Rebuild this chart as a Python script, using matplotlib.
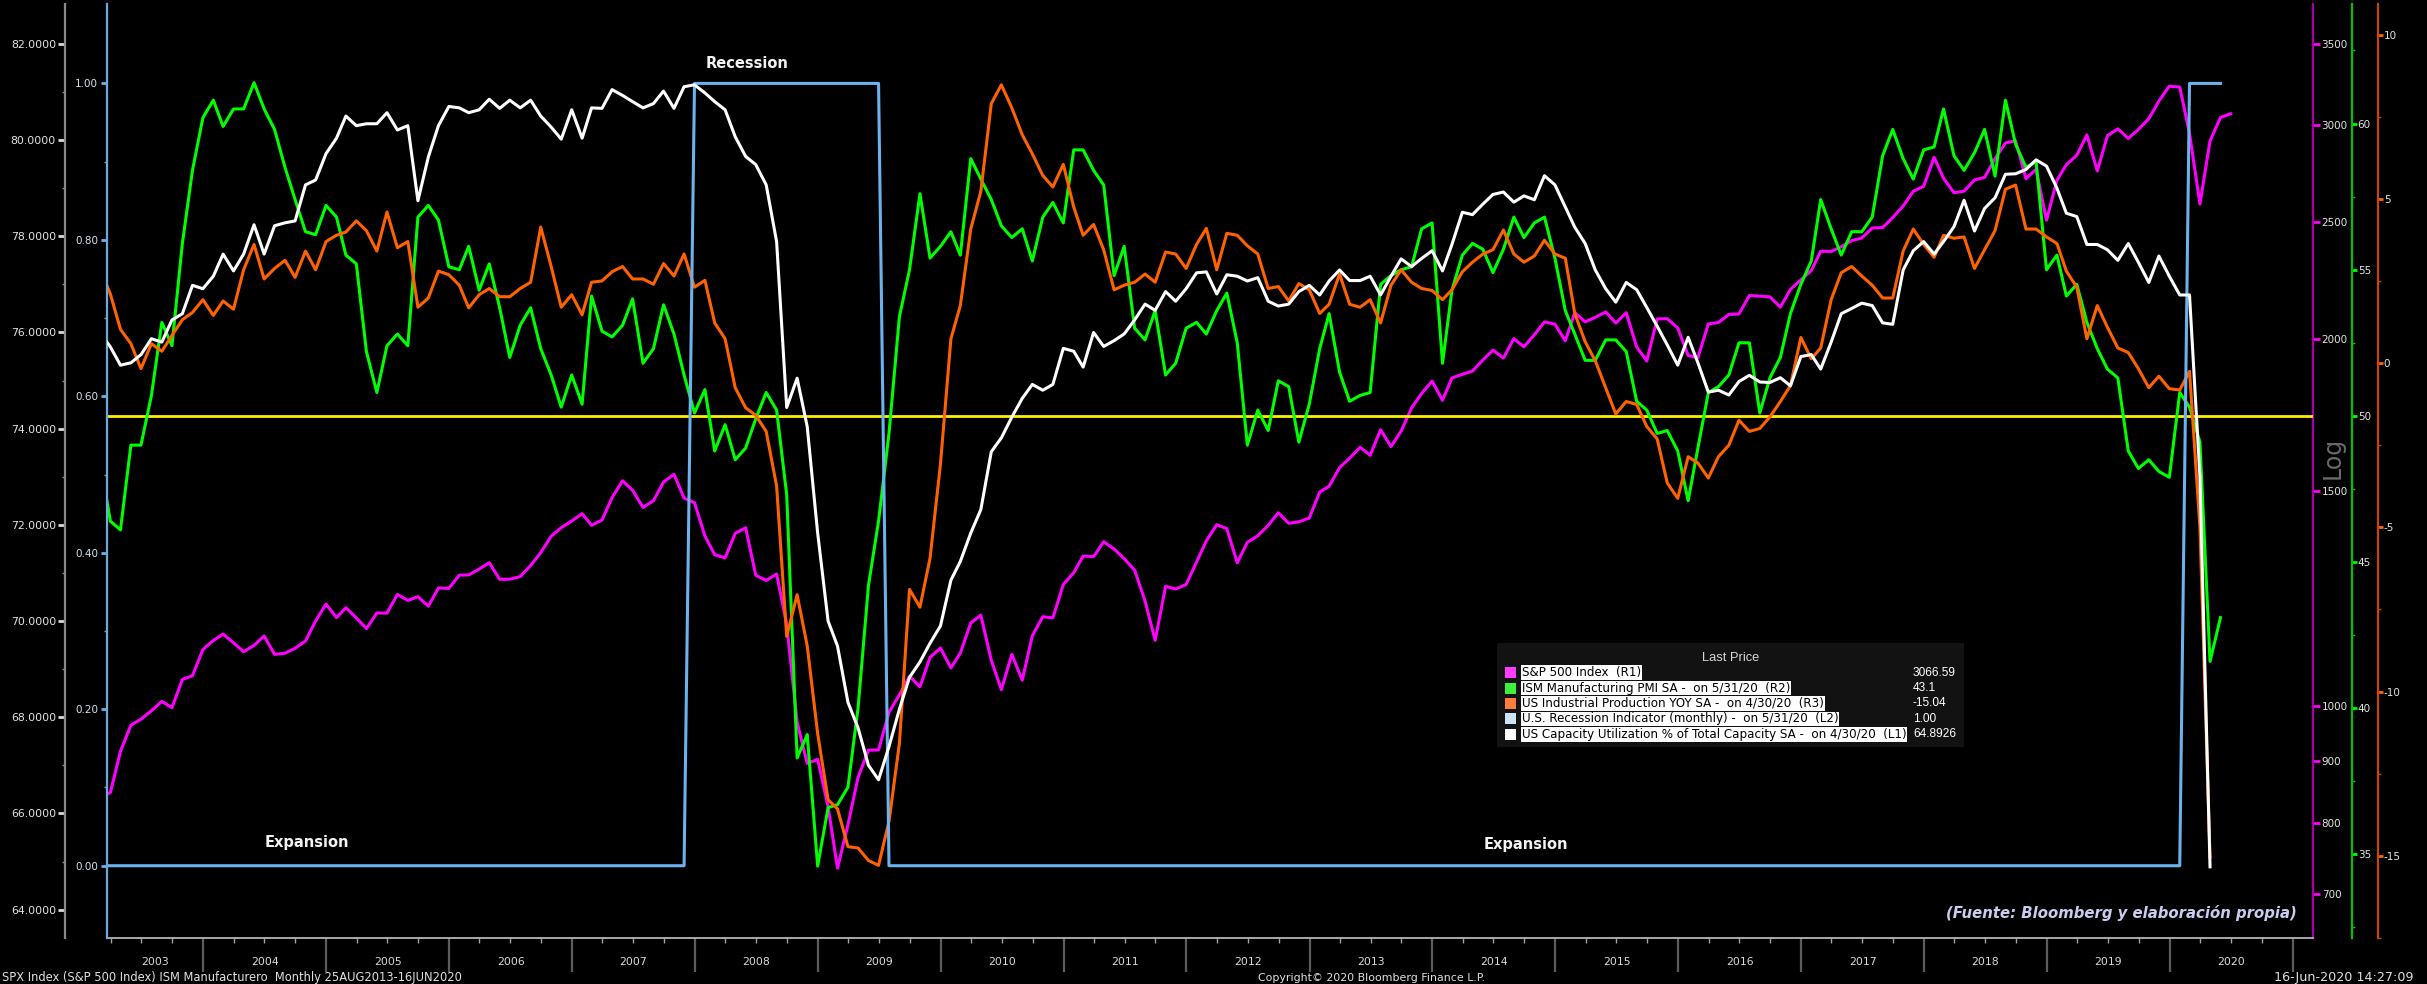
import numpy as np
import matplotlib
matplotlib.use("Agg")
import matplotlib.pyplot as plt
import matplotlib.dates as mdates
from matplotlib.ticker import NullLocator
from matplotlib.patches import Rectangle
from matplotlib.transforms import blended_transform_factory

plt.rcParams['font.family'] = ['DejaVu Sans']

W, H, DPI = 2427, 984, 100

# ---------------- data (monthly, month-end) ----------------
FIRST_MONTH = "2003-02"

# S&P 500 Index (R1) Feb-2003 .. Jun-2020
spx = [
    841.15, 848.18, 916.92, 963.59, 974.50, 990.31, 1008.01, 995.97, 1050.71, 1058.20, 1111.92,
    1131.13, 1144.94, 1126.21, 1107.30, 1120.68, 1140.84, 1101.72, 1104.24, 1114.58, 1130.20, 1173.82, 1211.92,
    1181.27, 1203.60, 1180.59, 1156.85, 1191.50, 1191.33, 1234.18, 1220.33, 1228.81, 1207.01, 1249.48, 1248.29,
    1280.08, 1280.66, 1294.87, 1310.61, 1270.09, 1270.20, 1276.66, 1303.82, 1335.85, 1377.94, 1400.63, 1418.30,
    1438.24, 1406.82, 1420.86, 1482.37, 1530.62, 1503.35, 1455.27, 1473.99, 1526.75, 1549.38, 1481.14, 1468.36,
    1378.55, 1330.63, 1322.70, 1385.59, 1400.38, 1280.00, 1267.38, 1282.83, 1166.36, 968.75, 896.24, 903.25,
    825.88, 735.09, 797.87, 872.81, 919.14, 919.32, 987.48, 1020.62, 1057.08, 1036.19, 1095.63, 1115.10,
    1073.87, 1104.49, 1169.43, 1186.69, 1089.41, 1030.71, 1101.60, 1049.33, 1141.20, 1183.26, 1180.55, 1257.64,
    1286.12, 1327.22, 1325.83, 1363.61, 1345.20, 1320.64, 1292.28, 1218.89, 1131.42, 1253.30, 1246.96, 1257.60,
    1312.41, 1365.68, 1408.47, 1397.91, 1310.33, 1362.16, 1379.32, 1406.58, 1440.67, 1412.16, 1416.18, 1426.19,
    1498.11, 1514.68, 1569.19, 1597.57, 1630.74, 1606.28, 1685.73, 1632.97, 1681.55, 1756.54, 1805.81, 1848.36,
    1782.59, 1859.45, 1872.34, 1883.95, 1923.57, 1960.23, 1930.67, 2003.37, 1972.29, 2018.05, 2067.56, 2058.90,
    1994.99, 2104.50, 2067.89, 2085.51, 2107.39, 2063.11, 2103.84, 1972.18, 1920.03, 2079.36, 2080.41, 2043.94,
    1940.24, 1932.23, 2059.74, 2065.30, 2096.95, 2098.86, 2173.60, 2170.95, 2168.27, 2126.15, 2198.81, 2238.83,
    2278.87, 2363.64, 2362.72, 2384.20, 2411.80, 2423.41, 2470.30, 2471.65, 2519.36, 2575.26, 2647.58, 2673.61,
    2823.81, 2713.83, 2640.87, 2648.05, 2705.27, 2718.37, 2816.29, 2901.52, 2913.98, 2711.74, 2760.17, 2506.85,
    2704.10, 2784.49, 2834.40, 2945.83, 2752.06, 2941.76, 2980.38, 2926.46, 2976.74, 3037.56, 3140.98, 3230.78,
    3225.52, 2954.22, 2584.59, 2912.43, 3044.31, 3066.59,
]

# ISM Manufacturing PMI (R2) Feb-2003 .. May-2020
ism = [
    48.5, 46.4, 46.1, 49.0, 49.0, 50.7, 53.2, 52.4, 55.9, 58.4, 60.2,
    60.8, 59.9, 60.5, 60.5, 61.4, 60.5, 59.8, 58.5, 57.4, 56.3, 56.2, 57.2,
    56.8, 55.5, 55.2, 52.2, 50.8, 52.4, 52.8, 52.4, 56.8, 57.2, 56.7, 55.1,
    55.0, 55.8, 54.3, 55.2, 53.7, 52.0, 53.1, 53.7, 52.3, 51.4, 50.3, 51.4,
    50.4, 54.1, 52.9, 52.7, 53.1, 54.0, 51.8, 52.3, 53.8, 52.8, 51.4, 50.1,
    50.9, 48.8, 49.7, 48.5, 48.9, 49.9, 50.8, 50.2, 47.3, 38.3, 39.1, 34.6,
    36.6, 36.7, 37.3, 40.0, 44.2, 46.4, 49.4, 53.4, 55.0, 57.6, 55.4, 55.8,
    56.3, 55.5, 58.8, 58.1, 57.4, 56.5, 56.1, 56.4, 55.3, 56.8, 57.3, 56.6,
    59.1, 59.1, 58.4, 57.9, 54.8, 55.8, 53.0, 52.6, 53.6, 51.4, 51.8, 53.0,
    53.2, 52.8, 53.6, 54.2, 52.5, 49.0, 50.2, 49.5, 51.2, 51.0, 49.1, 50.4,
    52.3, 53.5, 51.5, 50.5, 50.7, 50.8, 54.5, 54.8, 55.0, 55.1, 56.4, 56.6,
    51.8, 54.3, 55.5, 55.9, 55.7, 54.9, 55.7, 56.8, 56.1, 56.6, 56.8, 55.4,
    53.6, 52.8, 51.9, 51.9, 52.6, 52.6, 52.2, 50.5, 50.2, 49.4, 49.5, 48.8,
    47.1, 48.9, 50.8, 51.0, 51.4, 52.5, 52.5, 50.1, 51.3, 52.0, 53.5, 54.5,
    55.3, 57.4, 56.4, 55.5, 56.3, 56.3, 56.8, 58.9, 59.8, 58.8, 58.1, 59.1,
    59.2, 60.5, 58.9, 58.4, 59.0, 59.8, 58.2, 60.8, 59.3, 58.5, 58.7, 55.0,
    55.5, 54.1, 54.5, 53.2, 52.3, 51.6, 51.3, 48.8, 48.2, 48.5, 48.1, 47.9,
    50.8, 50.3, 49.1, 41.6, 43.1,
]

# US Industrial Production YoY % (R3) Feb-2003 .. Apr-2020
ip_yoy = [
    2.9, 2.1, 1.03, 0.59, -0.17, 0.59, 0.36, 0.84, 1.32, 1.54, 1.93,
    1.45, 1.89, 1.64, 2.84, 3.61, 2.56, 2.88, 3.13, 2.61, 3.41, 2.84, 3.70,
    3.89, 3.99, 4.33, 4.03, 3.41, 4.60, 3.51, 3.70, 1.70, 1.98, 2.80, 2.69,
    2.37, 1.68, 2.08, 2.27, 2.02, 2.02, 2.27, 2.46, 4.14, 2.94, 1.70, 2.08,
    1.47, 2.46, 2.50, 2.78, 2.94, 2.56, 2.56, 2.40, 3.03, 2.65, 3.32, 2.31,
    2.52, 1.22, 0.74, -0.75, -1.36, -1.59, -2.08, -3.74, -8.32, -7.05, -8.61, -11.28,
    -13.29, -13.57, -14.72, -14.76, -15.14, -15.29, -13.95, -11.57, -6.89, -7.43, -5.94, -3.07,
    0.74, 1.75, 4.08, 5.23, 7.90, 8.47, 7.77, 6.95, 6.37, 5.71, 5.36, 6.05,
    4.75, 3.89, 4.22, 3.45, 2.23, 2.37, 2.46, 2.71, 2.46, 3.38, 3.32, 2.88,
    3.61, 4.10, 2.84, 3.95, 3.89, 3.57, 3.32, 2.27, 2.33, 1.89, 2.42, 2.23,
    1.51, 1.79, 2.71, 1.79, 1.70, 1.93, 1.22, 2.37, 2.84, 2.46, 2.27, 2.21,
    1.93, 2.23, 2.78, 3.07, 3.32, 3.45, 4.05, 3.32, 3.07, 3.26, 3.74, 3.32,
    3.19, 1.51, 0.65, 0.07, -0.75, -1.55, -1.17, -1.26, -1.93, -2.31, -3.65, -4.12,
    -2.85, -3.04, -3.50, -2.85, -2.50, -1.74, -2.08, -1.99, -1.64, -1.17, -0.69, 0.78,
    0.13, 0.46, 1.93, 2.75, 2.94, 2.65, 2.37, 1.98, 1.98, 3.41, 4.08, 3.61,
    3.22, 3.89, 3.80, 3.84, 2.88, 3.45, 4.03, 5.29, 5.42, 4.08, 4.08, 3.84,
    3.64, 2.80, 2.31, 0.74, 1.75, 1.09, 0.46, 0.32, -0.17, -0.75, -0.40, -0.78,
    -0.82, -0.25, -5.00, -15.04,
]

# US Capacity Utilization % (L1) Feb-2003 .. Apr-2020
tcu = [
    76.0, 75.7, 75.32, 75.37, 75.54, 75.87, 75.80, 76.26, 76.39, 76.98, 76.91,
    77.17, 77.63, 77.28, 77.63, 78.24, 77.63, 78.22, 78.28, 78.32, 79.07, 79.17, 79.72,
    80.04, 80.50, 80.30, 80.34, 80.34, 80.57, 80.21, 80.30, 78.74, 79.65, 80.30, 80.70,
    80.67, 80.57, 80.63, 80.85, 80.66, 80.83, 80.67, 80.83, 80.50, 80.27, 80.02, 80.63,
    80.04, 80.67, 80.66, 81.05, 80.93, 80.80, 80.67, 80.76, 81.02, 80.66, 81.11, 81.15,
    80.98, 80.80, 80.63, 80.07, 79.66, 79.49, 79.07, 77.89, 74.44, 75.05, 74.04, 71.83,
    70.00, 69.48, 68.31, 67.78, 67.00, 66.70, 67.39, 68.17, 68.83, 69.15, 69.54, 69.90,
    70.85, 71.24, 71.83, 72.32, 73.52, 73.81, 74.24, 74.63, 74.92, 74.80, 74.92, 75.67,
    75.61, 75.28, 76.00, 75.71, 75.83, 75.97, 76.26, 76.59, 76.46, 76.85, 76.65, 76.91,
    77.24, 77.26, 76.80, 77.20, 77.17, 77.07, 77.14, 76.65, 76.55, 76.59, 76.85, 76.98,
    76.78, 77.07, 77.30, 77.08, 77.08, 77.17, 76.78, 77.17, 77.53, 77.37, 77.54, 77.70,
    77.28, 77.83, 78.50, 78.45, 78.67, 78.87, 78.92, 78.71, 78.84, 78.76, 79.26, 79.07,
    78.61, 78.19, 77.85, 77.30, 76.91, 76.63, 77.04, 76.89, 76.52, 76.13, 75.74, 75.32,
    75.90, 75.37, 74.76, 74.80, 74.70, 74.98, 75.11, 74.97, 74.96, 75.06, 74.89, 75.50,
    75.54, 75.24, 75.80, 76.39, 76.50, 76.61, 76.56, 76.20, 76.17, 77.30, 77.70, 77.89,
    77.63, 77.89, 78.20, 78.75, 78.11, 78.58, 78.80, 79.29, 79.30, 79.39, 79.59, 79.46,
    79.00, 78.48, 78.41, 77.83, 77.83, 77.72, 77.50, 77.85, 77.46, 77.04, 77.59, 77.17,
    76.78, 76.78, 73.00, 64.89,
]

# U.S. Recession Indicator (L2): change points (month, value)
rec_months = ["2003-02", "2007-11", "2007-12", "2009-06", "2009-07", "2020-01", "2020-02", "2020-05"]
rec_values = [0, 0, 1, 1, 0, 0, 1, 1]

ism_ref_level = 50

tcu_ticks = [64, 66, 68, 70, 72, 74, 76, 78, 80, 82]
rec_ticks = [0.0, 0.2, 0.4, 0.6, 0.8, 1.0]
spx_ticks = [700, 800, 900, 1000, 1500, 2000, 2500, 3000, 3500]
ism_ticks = [35, 40, 45, 50, 55, 60]
ip_ticks = [-15, -10, -5, 0, 5, 10]
year_labels = [str(y) for y in range(2003, 2021)]

legend_names = [
    "S&P 500 Index  (R1)",
    "ISM Manufacturing PMI SA -  on 5/31/20  (R2)",
    "US Industrial Production YOY SA -  on 4/30/20  (R3)",
    "U.S. Recession Indicator (monthly) -  on 5/31/20  (L2)",
    "US Capacity Utilization % of Total Capacity SA -  on 4/30/20  (L1)",
]
legend_values = ["3066.59", "43.1", "-15.04", "1.00", "64.8926"]

# ---------------- helpers ----------------
def month_ends(first, n):
    m0 = np.datetime64(first, 'M')
    months = m0 + np.arange(n)
    return (months + 1).astype('datetime64[D]') - np.timedelta64(1, 'D')


def fx(px):
    return px / W


def fy(py):
    return 1 - py / H


# colours
C_SPX, C_ISM, C_IP, C_REC, C_TCU = '#ff00ff', '#00ff00', '#ff6200', '#6cb2ee', '#ffffff'
LEG_COLORS = ['#ff3cff', '#3cf03c', '#ff7d3c', '#cfe3f7', '#ffffff']

fig = plt.figure(figsize=(W / DPI, H / DPI), dpi=DPI, facecolor='black')
L, R, T, B = 107, 2313, 4, 938
ax = fig.add_axes([fx(L), fy(B), (R - L) / W, (B - T) / H], facecolor='black')
ax_ism = ax.twinx()
ax_ip = ax.twinx()
ax_rec = ax.twinx()
ax_tcu = ax.twinx()

for a in (ax, ax_ism, ax_ip, ax_rec, ax_tcu):
    for s in a.spines.values():
        s.set_visible(False)

x_lo, x_hi = np.datetime64('2003-03-21'), np.datetime64('2021-03-02')
ax.set_xlim(x_lo, x_hi)

# ---- series ----
ax.plot(month_ends(FIRST_MONTH, len(spx)), spx, color=C_SPX, lw=2.2, solid_joinstyle='round')
ax_ism.axhline(ism_ref_level, color='#ffee00', lw=2.0, zorder=1)
ax_ism.plot(month_ends(FIRST_MONTH, len(ism)), ism, color=C_ISM, lw=2.2, zorder=2, solid_joinstyle='round')
ax_ip.plot(month_ends(FIRST_MONTH, len(ip_yoy)), ip_yoy, color=C_IP, lw=2.2, solid_joinstyle='round')
rec_x = (np.array(rec_months, dtype='datetime64[M]') + 1).astype('datetime64[D]') - np.timedelta64(1, 'D')
ax_rec.plot(rec_x, rec_values, color=C_REC, lw=2.2)
ax_tcu.plot(month_ends(FIRST_MONTH, len(tcu)), tcu, color=C_TCU, lw=2.2, solid_joinstyle='round')

# ---- y axes ----
# R1: S&P 500 (log)
ax.set_yscale('log')
ax.set_ylim(644.0, 3774.7)
ax.yaxis.tick_right()
ax.set_yticks(spx_ticks, labels=[str(v) for v in spx_ticks])
ax.yaxis.set_minor_locator(NullLocator())
ax.spines['right'].set_visible(True)
ax.spines['right'].set_color('#a800a8')
ax.spines['right'].set_linewidth(1.6)
ax.tick_params(axis='y', which='major', direction='out', length=5, width=2.0, color=C_SPX,
               labelcolor='#e4e4e4', labelsize=7.5, pad=1.2)

# R2: ISM
ax_ism.set_ylim(32.14, 64.09)
ax_ism.yaxis.tick_right()
ax_ism.spines['right'].set_visible(True)
ax_ism.spines['right'].set_position(('axes', 1 + 39 / 2206))
ax_ism.spines['right'].set_color('#00c000')
ax_ism.spines['right'].set_linewidth(1.6)
ax_ism.set_yticks(ism_ticks, labels=[str(v) for v in ism_ticks])
ax_ism.set_yticks([32.5, 37.5, 42.5, 47.5, 52.5, 57.5, 62.5], minor=True)
ax_ism.tick_params(axis='y', which='major', direction='out', length=3.5, width=2.0, color=C_ISM,
                   labelcolor='#e4e4e4', labelsize=7.5, pad=0.6)
ax_ism.tick_params(axis='y', which='minor', direction='out', length=2.5, width=1.0, color='#00c000')

# R3: IP YoY
ax_ip.set_ylim(-17.49, 10.93)
ax_ip.yaxis.tick_right()
ax_ip.spines['right'].set_visible(True)
ax_ip.spines['right'].set_position(('axes', 1 + 65 / 2206))
ax_ip.spines['right'].set_color('#c04a00')
ax_ip.spines['right'].set_linewidth(1.6)
ax_ip.set_yticks(ip_ticks, labels=[str(v) for v in ip_ticks])
ax_ip.set_yticks([-17.5, -12.5, -7.5, -2.5, 2.5, 7.5], minor=True)
ax_ip.tick_params(axis='y', which='major', direction='out', length=3.5, width=2.0, color=C_IP,
                  labelcolor='#e4e4e4', labelsize=7.5, pad=0.6)
ax_ip.tick_params(axis='y', which='minor', direction='out', length=2.5, width=1.0, color='#c04a00')

# L2: recession indicator
ax_rec.set_ylim(-0.0924, 1.1015)
ax_rec.yaxis.tick_left()
ax_rec.spines['left'].set_visible(True)
ax_rec.spines['left'].set_color('#6fa8dc')
ax_rec.spines['left'].set_linewidth(1.6)
ax_rec.set_yticks(rec_ticks, labels=[f"{v:.2f}" for v in rec_ticks])
ax_rec.set_yticks([0.1, 0.3, 0.5, 0.7, 0.9], minor=True)
ax_rec.tick_params(axis='y', which='major', direction='out', length=4.5, width=2.0, color=C_REC,
                   labelcolor='#d4e2f0', labelsize=7.5, pad=1.8)
ax_rec.tick_params(axis='y', which='minor', direction='out', length=2.5, width=1.0, color='#6fa8dc')

# L1: capacity utilization
ax_tcu.set_ylim(63.41, 82.83)
ax_tcu.yaxis.tick_left()
ax_tcu.spines['left'].set_visible(True)
ax_tcu.spines['left'].set_position(('axes', -42 / 2206))
ax_tcu.spines['left'].set_color('#8a8a8a')
ax_tcu.spines['left'].set_linewidth(1.6)
ax_tcu.set_yticks(tcu_ticks, labels=[f"{v:.4f}" for v in tcu_ticks])
ax_tcu.set_yticks([65, 67, 69, 71, 73, 75, 77, 79, 81], minor=True)
ax_tcu.tick_params(axis='y', which='major', direction='out', length=5, width=2.0, color='#d8d8d8',
                   labelcolor='#e4e4e4', labelsize=7.8, pad=1.5)
ax_tcu.tick_params(axis='y', which='minor', direction='out', length=2.5, width=1.0, color='#8a8a8a')

# ---- x axis ----
ax.spines['bottom'].set_visible(True)
ax.spines['bottom'].set_color('#b4b4b4')
ax.spines['bottom'].set_linewidth(1.3)
ax.xaxis.set_major_locator(mdates.YearLocator())
ax.xaxis.set_minor_locator(mdates.MonthLocator(bymonth=[4, 7, 10]))
ax.tick_params(axis='x', which='major', direction='out', length=24.5, width=1.6,
               color='#5c5c5c', labelbottom=False)
ax.tick_params(axis='x', which='minor', direction='out', length=3.5, width=1.0,
               color='#a0a0a0', labelbottom=False)

tr = blended_transform_factory(ax.transData, fig.transFigure)
lo_num, hi_num = mdates.date2num(x_lo), mdates.date2num(x_hi)
for lab in year_labels:
    y = int(lab)
    a = max(mdates.date2num(np.datetime64(f'{y}-01-01')), lo_num)
    b = min(mdates.date2num(np.datetime64(f'{y + 1}-01-01')), hi_num)
    ax.text((a + b) / 2, fy(962), lab, transform=tr, ha='center', va='center',
            color='#dadada', fontsize=7.8)

# ---- annotations ----
fig.text(fx(747), fy(64), "Recession", ha='center', va='center', color='#f2f2f2',
         fontsize=10.5, fontweight='bold')
fig.text(fx(307), fy(842), "Expansion", ha='center', va='center', color='#f2f2f2',
         fontsize=10.5, fontweight='bold')
fig.text(fx(1526), fy(845), "Expansion", ha='center', va='center', color='#f2f2f2',
         fontsize=10.5, fontweight='bold')
fig.text(fx(2297), fy(913), "(Fuente: Bloomberg y elaboración propia)", ha='right', va='center',
         color='#c9cdf0', fontsize=10.7, fontweight='bold', fontstyle='italic')
fig.text(fx(2333), fy(458), "Log", rotation=90, ha='center', va='center', color='#6a6a6a', fontsize=17)

# footer
fig.text(fx(2), fy(978), "SPX Index (S&P 500 Index) ISM Manufacturero  Monthly 25AUG2013-16JUN2020",
         ha='left', va='center', color='#e0e0e0', fontsize=8.3)
fig.text(fx(1258), fy(978), "Copyright\u00a9 2020 Bloomberg Finance L.P.", ha='left', va='center',
         color='#e0e0e0', fontsize=7.9)
fig.text(fx(2413), fy(978), "16-Jun-2020 14:27:09", ha='right', va='center', color='#e0e0e0', fontsize=9.2)

# ---- legend ----
fig.add_artist(Rectangle((fx(1497), fy(747)), (1964 - 1497) / W, (747 - 643) / H,
                         transform=fig.transFigure, facecolor='#121212', edgecolor='none'))
fig.text(fx(1731), fy(658), "Last Price", ha='center', va='center', color='#d8d8d8',
         fontsize=9.3, family='Liberation Sans')
for i, (name, val, col) in enumerate(zip(legend_names, legend_values, LEG_COLORS)):
    yc = 672.7 + i * 15.4
    fig.add_artist(Rectangle((fx(1505), fy(yc + 5.5)), 11 / W, 11 / H, transform=fig.transFigure,
                             facecolor=col, edgecolor='none'))
    fig.text(fx(1522), fy(yc), name, ha='left', va='center', color='black', fontsize=8.6,
             family='DejaVu Sans', bbox=dict(facecolor='white', edgecolor='none', pad=0.6))
    fig.text(fx(1913), fy(yc), val, ha='left', va='center', color='white', fontsize=8.6,
             family='Liberation Sans')

fig.savefig("out.png", dpi=DPI, facecolor='black')
